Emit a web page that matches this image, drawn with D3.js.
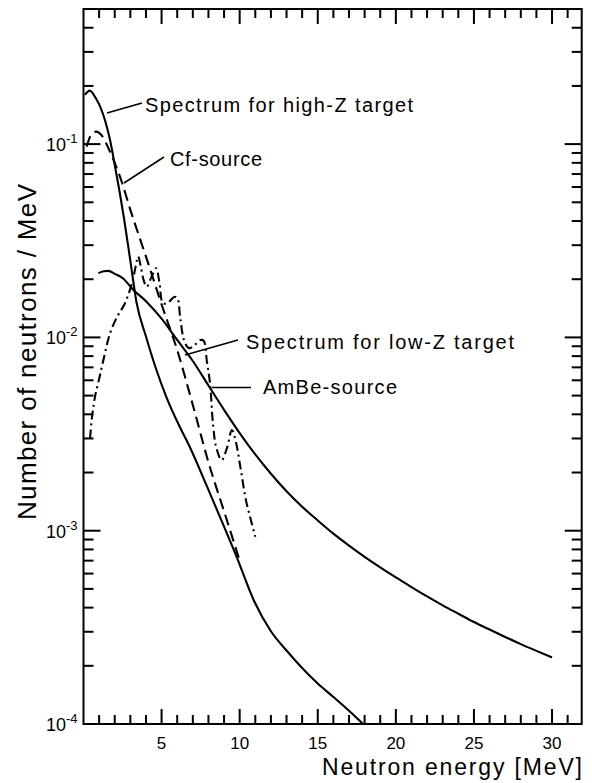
<!DOCTYPE html>
<html>
<head>
<meta charset="utf-8">
<script src="https://cdnjs.cloudflare.com/ajax/libs/d3/7.8.5/d3.min.js"></script>
<style>
body { margin: 0; background: #fff; }
svg { font-family: "Liberation Sans", Arial, sans-serif; }
.curve { fill: none; stroke: #000; stroke-width: 2.1; }
.lead { stroke: #000; stroke-width: 1.6; }
.note { font-size: 20px; }
</style>
</head>
<body>
<svg id="chart" width="592" height="783"></svg>
<script>
// values (energy in MeV, neutrons / MeV)
var highZEnergy = [0.1, 0.4, 0.8, 1.1, 1.4, 1.7, 2.0, 2.3, 2.6, 3.0, 3.4, 4.0, 4.6, 5.3, 6.2, 6.8, 7.9, 9.0, 9.8, 10.9, 12, 13, 14, 15, 16, 17, 17.9];
var highZValues = [0.180, 0.189, 0.172, 0.154, 0.131, 0.105, 0.078, 0.0574, 0.041, 0.0249, 0.0151, 0.0101, 0.00705, 0.00493, 0.0034, 0.00272, 0.0017, 0.00105, 0.000735, 0.000437, 0.000302, 0.00024, 0.000195, 0.000162, 0.000138, 0.000117, 0.0001];

var lowZEnergy = [0.95, 1.3, 1.6, 2.0, 2.5, 3.2, 4.0, 5.0, 6.0, 7.0, 8.0, 9.0, 10.0, 11.0, 12, 13, 14, 15, 16, 17, 18, 19, 20, 21, 22, 23, 24, 25, 26, 27, 28, 29, 30];
var lowZValues = [0.0215, 0.0220, 0.0221, 0.0213, 0.0203, 0.0176, 0.0154, 0.0125, 0.0097, 0.00755, 0.00564, 0.00422, 0.0032, 0.00248, 0.00197, 0.0016, 0.00133, 0.00113, 0.000966, 0.000838, 0.000733, 0.000646, 0.000573, 0.000511, 0.000457, 0.000411, 0.000372, 0.000337, 0.000308, 0.000282, 0.000259, 0.000239, 0.000221];

var cfEnergy = [0.2, 0.5, 0.8, 1.2, 1.6, 2.0, 2.5, 3.0, 3.5, 4.0, 5.0, 6.0, 7.0, 8.0, 9.0, 10.0];
var cfValues = [0.097, 0.112, 0.116, 0.110, 0.095, 0.080, 0.062, 0.0457, 0.0345, 0.0262, 0.0148, 0.0086, 0.00447, 0.00226, 0.00126, 0.0007];

var ambeEnergy = [0.42, 0.5, 0.6, 0.75, 1.0, 1.3, 1.7, 2.2, 2.6, 3.1, 3.35, 3.5, 3.7, 3.85, 4.05, 4.35, 4.65, 4.85, 5.1, 5.45, 5.8, 6.0, 6.2, 6.45, 6.75, 7.1, 7.5, 7.7, 7.9, 8.1, 8.3, 8.5, 8.85, 9.2, 9.5, 9.75, 10.05, 10.4, 10.7, 11.0];
var ambeValues = [0.0030, 0.0036, 0.0042, 0.0050, 0.0061, 0.0078, 0.0105, 0.0130, 0.0147, 0.0190, 0.0235, 0.0262, 0.0225, 0.0198, 0.0183, 0.0205, 0.0228, 0.0195, 0.0150, 0.0152, 0.0162, 0.0160, 0.0125, 0.0096, 0.0088, 0.0091, 0.0097, 0.0096, 0.0075, 0.0058, 0.0035, 0.0027, 0.00232, 0.0027, 0.00332, 0.0029, 0.00212, 0.00144, 0.00115, 0.00093];

var xMajorTicks = [5, 10, 15, 20, 25, 30];
var yDecades = [1e-4, 1e-3, 1e-2, 1e-1];
var yExponents = ['-4', '-3', '-2', '-1'];

var svg = d3.select('#chart');

var x = d3.scaleLinear().domain([0, 31.9]).range([83.5, 581.7]);
var y = d3.scaleLog().domain([1e-4, 0.5]).range([724, 9]);

var frameL = x(0), frameR = x(31.9), frameB = y(1e-4), frameT = y(0.5);

var xMinor = d3.range(1, 32).filter(function(d){ return d % 5 !== 0; });
var yMinor = [];
yDecades.forEach(function(dec){
    for (var k = 2; k <= 9; k++){
        if (dec * k <= 0.5) yMinor.push(dec * k);
    }
});

// frame
svg.append('rect')
    .attr('x', frameL).attr('y', frameT)
    .attr('width', frameR - frameL).attr('height', frameB - frameT)
    .attr('fill', 'none').attr('stroke', '#000').attr('stroke-width', 2);

// inward ticks on all four sides, as small rects
var tickG = svg.append('g').attr('fill', '#000');
function xTicks(vals, len){
    tickG.selectAll(null).data(vals).enter().append('rect')
        .attr('x', function(d){ return x(d) - 1; }).attr('y', frameB - len)
        .attr('width', 2).attr('height', len);
    tickG.selectAll(null).data(vals).enter().append('rect')
        .attr('x', function(d){ return x(d) - 1; }).attr('y', frameT)
        .attr('width', 2).attr('height', len);
}
function yTicks(vals, len){
    tickG.selectAll(null).data(vals).enter().append('rect')
        .attr('x', frameL).attr('y', function(d){ return y(d) - 1; })
        .attr('width', len).attr('height', 2);
    tickG.selectAll(null).data(vals).enter().append('rect')
        .attr('x', frameR - len).attr('y', function(d){ return y(d) - 1; })
        .attr('width', len).attr('height', 2);
}
xTicks(xMinor, 9);
xTicks(xMajorTicks, 15);
yTicks(yMinor, 10);
yTicks(yDecades, 17);

// tick labels
svg.append('g').selectAll('text').data(xMajorTicks).join('text')
    .attr('x', function(d){ return x(d); })
    .attr('y', frameB + 25)
    .attr('text-anchor', 'middle')
    .attr('font-size', 17)
    .text(function(d){ return d; });

var yl = svg.append('g').selectAll('text').data(yDecades).join('text')
    .attr('x', frameL - 6)
    .attr('y', function(d){ return y(d) + 7; })
    .attr('text-anchor', 'end');
yl.append('tspan').attr('font-size', 18).text('10');
yl.append('tspan').attr('font-size', 13).attr('dy', -8).text(function(d, i){ return yExponents[i]; });

// axis titles
svg.append('text')
    .attr('x', 582).attr('y', 775)
    .attr('text-anchor', 'end')
    .attr('font-size', 23)
    .attr('textLength', 260).attr('lengthAdjust', 'spacing')
    .text('Neutron  energy [MeV]');

svg.append('text')
    .attr('transform', 'translate(36,352) rotate(-90)')
    .attr('text-anchor', 'middle')
    .attr('font-size', 26)
    .attr('textLength', 336).attr('lengthAdjust', 'spacing')
    .text('Number of neutrons / MeV');

// curves
var line = d3.line()
    .x(function(d){ return x(d[0]); })
    .y(function(d){ return y(d[1]); })
    .curve(d3.curveMonotoneX);
var wavy = d3.line()
    .x(function(d){ return x(d[0]); })
    .y(function(d){ return y(d[1]); })
    .curve(d3.curveCatmullRom.alpha(0.5));

svg.append('path').attr('class', 'curve')
    .attr('d', line(d3.zip(highZEnergy, highZValues)));
svg.append('path').attr('class', 'curve')
    .attr('d', line(d3.zip(lowZEnergy, lowZValues)));
svg.append('path').attr('class', 'curve')
    .attr('stroke-dasharray', '11,6')
    .attr('d', line(d3.zip(cfEnergy, cfValues)));
svg.append('path').attr('class', 'curve')
    .attr('stroke-width', 1.8)
    .attr('stroke-dasharray', '9,4,2,4')
    .attr('d', wavy(d3.zip(ambeEnergy, ambeValues)));

// labels with leader lines
var notes = [
    {text: 'Spectrum for high-Z target', x1: 107, y1: 113, x2: 142, y2: 103, tx: 145, ty: 112, w: 268},
    {text: 'Cf-source', x1: 124, y1: 183, x2: 164, y2: 157, tx: 170, ty: 166, w: 92},
    {text: 'Spectrum for low-Z target', x1: 185, y1: 355, x2: 238, y2: 340, tx: 246, ty: 349, w: 268},
    {text: 'AmBe-source', x1: 212, y1: 387.5, x2: 251, y2: 387.5, tx: 263, ty: 394, w: 134}
];
notes.forEach(function(n){
    svg.append('line').attr('class', 'lead')
        .attr('x1', n.x1).attr('y1', n.y1).attr('x2', n.x2).attr('y2', n.y2);
    svg.append('text').attr('class', 'note')
        .attr('x', n.tx).attr('y', n.ty)
        .attr('textLength', n.w).attr('lengthAdjust', 'spacing')
        .text(n.text);
});
</script>
</body>
</html>
